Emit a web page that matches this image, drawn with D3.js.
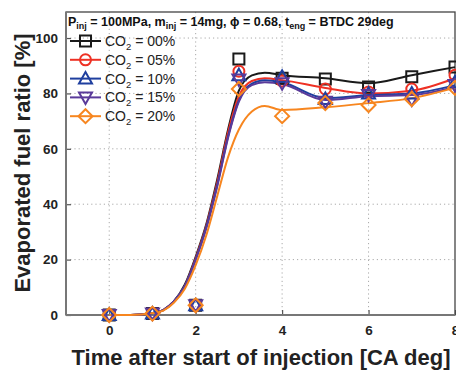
<!DOCTYPE html>
<html><head><meta charset="utf-8">
<script src="https://cdn.jsdelivr.net/npm/d3@7"></script>
<style>body{margin:0;background:#fff}svg{display:block;font-family:"Liberation Sans",Arial,sans-serif}</style>
</head><body><svg id="c" width="456" height="372"></svg>
<script>
const seriesNames = ["00%","05%","10%","15%","20%"];
const seriesColors = ["#1a1a1a","#ee3124","#1f3f9f","#5a3a9a","#f7861f"];
const seriesSymbols = ["square","circle","triangle","invtriangle","diamond"];
const markerX = [0,1,2,3,4,5,6,7,8];
const co2_00 = [0,0.5,3.5,92.4,85.5,85.2,82.3,86,89.5];
const co2_05 = [0,0.5,3.5,88,84.5,81.6,80.5,81.6,86.6];
const co2_10 = [0,0.5,3.5,86.6,86,78,80,80,84];
const co2_15 = [0,0.5,3.5,85,83.7,77,79.4,77.8,83];
const co2_20 = [0,0.5,3.5,81.6,71.8,76.5,75.8,78,82];
const markerData = [co2_00,co2_05,co2_10,co2_15,co2_20];
const curveX = [0,0.5,1,1.25,1.5,1.75,2,2.25,2.5,2.75,3,3.3,3.6,4,5,6,7,8];
const fit_00 = [0,0,0.7,1.8,5,11,21,33,49,67,81,86.5,87.5,86.6,85.5,83.7,86.6,89.5];
const fit_05 = [0,0,0.7,1.8,5,10.5,20.5,32.5,48,66,79,84.5,85.5,84.8,82,80,81,85.5];
const fit_10 = [0,0,0.7,1.8,5,10.5,20,32,47,64.5,77.5,83.5,84.8,84,78.3,79.4,80,83];
const fit_15 = [0,0,0.7,1.8,5,10.5,20,31.5,46.5,64,77,83,84,83.4,77.6,79,79.4,82.3];
const fit_20 = [0,0,0.7,1.6,4.5,9.5,18,29,43,57,67,73.5,75.5,74,75,76.5,78.3,82];
const fitData = [fit_00,fit_05,fit_10,fit_15,fit_20];
const xTicks = [0,2,4,6,8];
const yTicks = [0,20,40,60,80,100];

const svg = d3.select("#c");
const L=66,R=455,T=12,B=315;
const x = d3.scaleLinear().domain([-1,8]).range([L,R]);
const y = d3.scaleLinear().domain([0,109.4]).range([B,T]);

// grid
const g = svg.append("g");
g.selectAll(".gx").data(xTicks.filter(d=>d<8)).enter().append("line")
 .attr("x1",d=>x(d)).attr("x2",d=>x(d)).attr("y1",T).attr("y2",B)
 .attr("stroke","#aaa").attr("stroke-width",1).attr("stroke-dasharray","1.2,3");
g.selectAll(".gy").data(yTicks.filter(d=>d>0)).enter().append("line")
 .attr("x1",L).attr("x2",R).attr("y1",d=>y(d)).attr("y2",d=>y(d))
 .attr("stroke","#aaa").attr("stroke-width",1).attr("stroke-dasharray","1.2,3");

// axes
const xa = svg.append("g").attr("transform",`translate(0,${B})`)
 .call(d3.axisBottom(x).tickValues(xTicks).tickSize(-5).tickPadding(10).tickFormat(d3.format("d")));
const ya = svg.append("g").attr("transform",`translate(${L},0)`)
 .call(d3.axisLeft(y).tickValues(yTicks).tickSize(-5).tickPadding(8).tickFormat(d3.format("d")));
[xa,ya].forEach(a=>{
  a.select(".domain").remove();
  a.selectAll(".tick line").attr("stroke","#555").attr("stroke-width",1.2);
  a.selectAll("text").attr("font-size",13.5).attr("font-weight","bold").attr("fill","#222")
   .attr("font-family","'Liberation Sans',Arial,sans-serif");
});
// frame
svg.append("rect").attr("x",L).attr("y",T).attr("width",R-L).attr("height",B-T)
 .attr("fill","none").attr("stroke","#444").attr("stroke-width",1.3);
svg.append("line").attr("x1",L).attr("x2",R).attr("y1",B).attr("y2",B).attr("stroke","#777").attr("stroke-width",2);
svg.append("line").attr("x1",L).attr("x2",L).attr("y1",T).attr("y2",B).attr("stroke","#777").attr("stroke-width",2);

const line = d3.line().x((d,i)=>x(curveX[i])).y(d=>y(d)).curve(d3.curveMonotoneX);
const pg = svg.append("g");
fitData.forEach((arr,k)=>{
  pg.append("path").datum(arr).attr("d",line).attr("fill","none")
   .attr("stroke",seriesColors[k]).attr("stroke-width",2);
});

function sym(sel,type,cx,cy,color){
  const s=5.5;
  let p;
  if(type==="square") p=`M${cx-s},${cy-s}h${2*s}v${2*s}h${-2*s}Z`;
  else if(type==="circle") { sel.append("circle").attr("cx",cx).attr("cy",cy).attr("r",s).attr("fill","none").attr("stroke",color).attr("stroke-width",2); return; }
  else if(type==="triangle") p=`M${cx},${cy-s-1}L${cx+s+1},${cy+s-0.5}L${cx-s-1},${cy+s-0.5}Z`;
  else if(type==="invtriangle") p=`M${cx},${cy+s+1}L${cx+s+1},${cy-s+0.5}L${cx-s-1},${cy-s+0.5}Z`;
  else p=`M${cx},${cy-s-1.5}L${cx+s+1.5},${cy}L${cx},${cy+s+1.5}L${cx-s-1.5},${cy}Z`;
  sel.append("path").attr("d",p).attr("fill","none").attr("stroke",color).attr("stroke-width",2);
}
const mg = svg.append("g");
markerData.forEach((arr,k)=>{
  arr.forEach((v,i)=>sym(mg,seriesSymbols[k],x(markerX[i]),y(v),seriesColors[k]));
});

// title in plot
const tt = svg.append("text").attr("x",68).attr("y",26).attr("font-size",12.5).attr("font-weight","bold").attr("fill","#111");
tt.append("tspan").text("P");
tt.append("tspan").attr("font-size",9).attr("dy",3).text("inj");
tt.append("tspan").attr("dy",-3).text(" = 100MPa, m");
tt.append("tspan").attr("font-size",9).attr("dy",3).text("inj");
tt.append("tspan").attr("dy",-3).text(" = 14mg, \u03d5 = 0.68, t");
tt.append("tspan").attr("font-size",9).attr("dy",3).text("eng");
tt.append("tspan").attr("dy",-3).text(" = BTDC 29deg");

// legend
const lg = svg.append("g");
seriesNames.forEach((n,k)=>{
  const cy = 41 + k*18.8;
  lg.append("line").attr("x1",70).attr("x2",101).attr("y1",cy).attr("y2",cy).attr("stroke",seriesColors[k]).attr("stroke-width",2);
  sym(lg,seriesSymbols[k],85.5,cy,seriesColors[k]);
  const t = lg.append("text").attr("x",105).attr("y",cy+5).attr("font-size",14).attr("fill","#222");
  t.append("tspan").text("CO");
  t.append("tspan").attr("font-size",9.5).attr("dy",4).text("2");
  t.append("tspan").attr("dy",-4).text(" = "+n);
});

// axis titles
svg.append("text").attr("x",261).attr("y",365).attr("text-anchor","middle").attr("font-size",22).attr("font-weight","bold").attr("fill","#222").text("Time after start of injection [CA deg]");
svg.append("text").attr("transform","translate(30,163) rotate(-90)").attr("text-anchor","middle").attr("font-size",22).attr("font-weight","bold").attr("fill","#222").text("Evaporated fuel ratio [%]");
</script></body></html>
